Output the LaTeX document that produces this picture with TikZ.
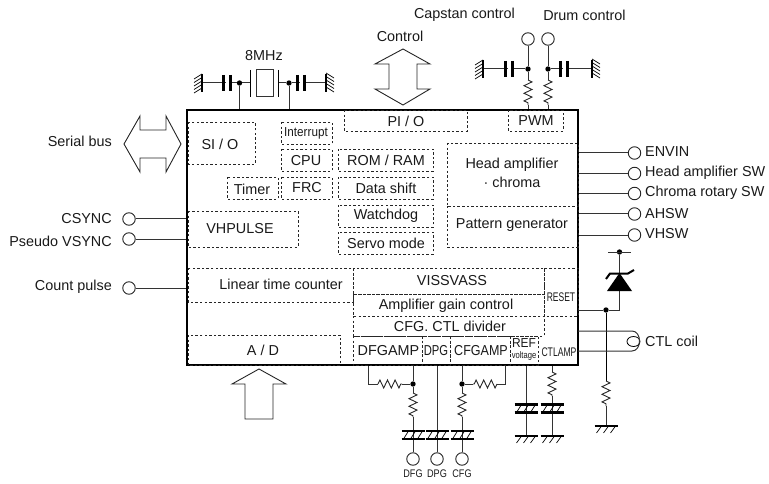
\documentclass[tikz,border=0pt]{standalone}
\usepackage{fontspec}
\usepackage{graphicx}
\setmainfont{Liberation Sans}
\usetikzlibrary{decorations.pathmorphing,calc,shapes.geometric}
\tikzset{
  wire/.style={line width=1pt,black!80},
  thin wire/.style={line width=0.8pt,black},
  plate/.style={line width=2.4pt,black},
  hatch/.style={line width=0.7pt,black},
  dbox/.style={draw=black!85,line width=0.8pt,dash pattern=on 2.4pt off 2.2pt},
  lbl/.style={inner sep=0pt,font=\fontsize{14.4}{14.4}\selectfont,text=black!90},
  lblL/.style={lbl,anchor=west},
  lblR/.style={lbl,anchor=east},
  term/.style={circle,draw=black!85,line width=0.9pt,minimum size=12.5pt,inner sep=0pt,fill=white},
  junction/.style={circle,fill=black,minimum size=5.4pt,inner sep=0pt},
  chipbox/.style={draw=black,line width=2.5pt,minimum width=391pt,minimum height=255pt,inner sep=0pt},
  bigarrow/.style={draw=black!85,line width=0.9pt,fill=white,line join=miter},
  resistor/.style={line width=0.9pt,black!85,decorate,decoration={zigzag,segment length=7.6pt,amplitude=4pt}}
}
\newcommand{\nrw}[3]{{\fontsize{#1}{#1}\selectfont\scalebox{#2}[1]{#3}}}
% ground at left (bar at x=#1, centre y=#2): hatch leaning left
\newcommand{\gndleft}[2]{\draw[plate,line width=2pt] (#1,#2-9) -- (#1,#2+9);
  \foreach \d in {-8,-4.5,-1,2.5,6}{\draw[hatch] (#1,#2+\d-1) -- (#1-8,#2+\d+4);}}
\newcommand{\gndright}[2]{\draw[plate,line width=2pt] (#1,#2-9) -- (#1,#2+9);
  \foreach \d in {-6,-2.5,1,4.5,8}{\draw[hatch] (#1,#2+\d-4) -- (#1+8,#2+\d+1);}}
% ground at bottom (bar at y=#2, centre x=#1)
\newcommand{\gnddown}[2]{\draw[plate] (#1-11.5,#2) -- (#1+11.5,#2);
  \foreach \d in {-7,0,7}{\draw[hatch] (#1+\d+2.5,#2) -- (#1+\d-2.5,#2+7);}}
% horizontal capacitor symbols
\newcommand{\caph}[2]{\draw[plate] (#1,#2-8) -- (#1,#2+8); \draw[plate] (#1+7,#2-8) -- (#1+7,#2+8);}
% vertical capacitor with hatch between plates
\newcommand{\capv}[2]{\draw[plate] (#1-11.5,#2) -- (#1+11.5,#2); \draw[plate] (#1-11.5,#2+8) -- (#1+11.5,#2+8);
  \foreach \d in {-7,0,7}{\draw[hatch] (#1+\d+2.5,#2) -- (#1+\d-2.5,#2+8);}}
\begin{document}
\begin{tikzpicture}[x=1pt,y=-1pt]
\useasboundingbox (0,0) rectangle (769,484);

% chip
\node[chipbox] (chip) at (382.5,237.5) {};

% dashed blocks
\draw[dbox] (188,122) rectangle (255,164);
\draw[dbox] (281,122) rectangle (332,144);
\draw[dbox] (281,149) rectangle (332,171);
\draw[dbox] (338,149) rectangle (433,171);
\draw[dbox] (227,177) rectangle (278,199);
\draw[dbox] (281,177) rectangle (332,199);
\draw[dbox] (338,177) rectangle (433,199);
\draw[dbox] (338,205) rectangle (433,227);
\draw[dbox] (338,232) rectangle (433,254);
\draw[dbox] (188,211) rectangle (298,247);
\draw[dbox] (344,110) rectangle (467,131);
\draw[dbox] (508,110) rectangle (563,131);
\draw[dbox] (447,143) rectangle (578,206);
\draw[dbox] (447,206) rectangle (578,247);
\draw[dbox] (188,268) rectangle (353,302);
\draw[dbox] (353,268) rectangle (544,294);
\draw[dbox] (353,294) rectangle (544,316);
\draw[dbox] (353,316) rectangle (544,336);
\draw[dbox] (544,268) rectangle (578,316);
\draw[dbox] (353,336) rectangle (422,365);
\draw[dbox] (422,336) rectangle (450,365);
\draw[dbox] (450,336) rectangle (510,365);
\draw[dbox] (510,336) rectangle (538,365);
\draw[dbox] (188,335) rectangle (340,365);

% block labels
\node[lbl] (siol) at (220,144) {SI / O};
\node[lbl] (intl) at (306,133) {\nrw{13}{.9}{Interrupt}};
\node[lbl] (cpul) at (306,160.5) {CPU};
\node[lbl] (roml) at (386,160.5) {ROM / RAM};
\node[lbl] (timl) at (252,189) {Timer};
\node[lbl] (frcl) at (307,188) {FRC};
\node[lbl] (datl) at (386,188) {Data shift};
\node[lbl] (watl) at (386,216) {Watchdog};
\node[lbl] (serl) at (386,243) {Servo mode};
\node[lbl] (vhpl) at (240,229) {VHPULSE};
\node[lbl] (piol) at (406,121) {PI / O};
\node[lbl] (pwml) at (536,121) {PWM};
\node[lbl] (headl) at (512,164.5) {Head amplifier};
\node[lbl] (chrl) at (512,182.5) {· chroma};
\node[lbl] (patl) at (512,225) {Pattern generator};
\node[lbl] (ltcl) at (281,284) {Linear time counter};
\node[lbl] (visl) at (452,281) {VISSVASS};
\node[lbl] (ampl) at (446,306) {Amplifier gain control};
\node[lbl] (cfgl) at (450,326) {CFG. CTL divider};
\node[lbl] (dfal) at (388.5,351) {DFGAMP};
\node[lbl] (dpal) at (436,351) {\nrw{14.4}{.78}{DPG}};
\node[lbl] (cfal) at (481,351) {\nrw{14.4}{.87}{CFGAMP}};
\node[lbl] (refl) at (524,343) {\nrw{13}{.92}{REF}};
\node[lbl] (voll) at (524,356.5) {\nrw{9.5}{.8}{voltage}};
\node[lbl] (ctal) at (559,352) {\nrw{12.5}{.69}{CTLAMP}};
\node[lbl] (resl) at (561,297) {\nrw{12.5}{.68}{RESET}};
\node[lbl] (adl) at (263,350) {A / D};

% left terminals
\node[term] (csync) at (129,219) {};
\node[term] (vsync) at (129,239) {};
\node[term] (count) at (129,288) {};
\node[lblR] (csyncl) at (112,219) {CSYNC};
\node[lblR] (vsyncl) at (112,241) {Pseudo VSYNC};
\node[lblR] (countl) at (112,287) {Count pulse};
\node[lblR] (busl) at (112,141) {Serial bus};
\foreach \t in {csync,vsync,count}{\draw[wire] (\t) -- (\t -| chip.west);}

% right terminals
\node[term] (envin) at (634.5,153) {};
\node[term] (headsw) at (634.5,173.5) {};
\node[term] (chrsw) at (634.5,193.5) {};
\node[term] (ahsw) at (634.5,214) {};
\node[term] (vhsw) at (634.5,235) {};
\node[lblL] (envinl) at (645,152) {ENVIN};
\node[lblL] (headswl) at (645,173) {Head amplifier SW};
\node[lblL] (chrswl) at (645,193) {Chroma rotary SW};
\node[lblL] (ahswl) at (645,214) {AHSW};
\node[lblL] (vhswl) at (645,234) {VHSW};
\foreach \t in {envin,headsw,chrsw,ahsw,vhsw}{\draw[wire] (\t) -- (\t -| chip.east);}

% big arrows
\draw[bigarrow] (403,49) -- (430,64) -- (417,64) -- (417,89) -- (430,89) -- (403,105) -- (375,89) -- (389,89) -- (389,64) -- (375,64) -- cycle;
\draw[bigarrow] (124,144) -- (140,116) -- (140,130) -- (166,130) -- (166,116) -- (181,144) -- (166,172) -- (166,158) -- (140,158) -- (140,172) -- cycle;
\draw[bigarrow] (259,369) -- (286,384) -- (273,384) -- (273,419) -- (245,419) -- (245,384) -- (232,384) -- cycle;

% top captions
\node[lbl] (mhzl) at (264,56) {8MHz};
\node[lbl] (ctrll) at (400,36) {Control};
\node[lbl] (capl) at (464.5,15) {Capstan control};
\node[lbl] (druml) at (584.5,15) {Drum control};

% crystal
\node[junction] (xa) at (239.5,83) {};
\node[junction] (xb) at (289,83) {};
\coordinate (gxa) at (202,83);
\coordinate (gxb) at (326,83);
\draw[wire] (gxa) -- (xa) -- (250,83);
\draw[wire] (278.5,83) -- (xb) -- (gxb);
\draw[wire] (xa) -- (xa |- chip.north);
\draw[wire] (xb) -- (xb |- chip.north);
\draw[thin wire] (250,70) -- (250,97);
\draw[thin wire] (278.5,70) -- (278.5,97);
\draw[wire,fill=white] (256,70) rectangle (273,97);
\gndleft{202}{83}
\gndright{326}{83}
\fill[white] (226,74) rectangle (229,92);
\caph{223.5}{83}
\fill[white] (300,74) rectangle (303,92);
\caph{297.5}{83}

% PWM outputs
\node[term] (capst) at (528,39) {};
\node[term] (drumt) at (548,39) {};
\node[junction] (ja) at (528,69) {};
\node[junction] (jb) at (548,69) {};
\coordinate (ra1) at (528,80);
\coordinate (ra2) at (528,105);
\coordinate (rb1) at (548,80);
\coordinate (rb2) at (548,105);
\draw[wire] (capst) -- (ja) -- (ra1);
\draw[wire] (drumt) -- (jb) -- (rb1);
\draw[resistor] (ra1) -- (ra2);
\draw[resistor] (rb1) -- (rb2);
\draw[wire] (ra2) -- (ra2 |- chip.north);
\draw[wire] (rb2) -- (rb2 |- chip.north);
\coordinate (ga) at (483,69);
\coordinate (gb) at (592,69);
\draw[wire] (ga) -- (ja);
\draw[wire] (jb) -- (gb);
\gndleft{483}{69}
\gndright{592}{69}
\fill[white] (508,60) rectangle (511,78);
\caph{505.5}{69}
\fill[white] (563,60) rectangle (566,78);
\caph{560.5}{69}

% bottom: DFG
\node[term] (dfg) at (413,459) {};
\node[term] (dpg) at (437,459) {};
\node[term] (cfg) at (462,459) {};
\node[junction] (jd) at (413,384) {};
\node[junction] (jc) at (462,384) {};
\coordinate (d0) at (368,384);
\coordinate (d1) at (378,384);
\coordinate (d2) at (402,384);
\coordinate (d3) at (413,393);
\coordinate (d4) at (413,417);
\draw[wire] (d0 |- chip.south) -- (d0) -- (d1);
\draw[resistor] (d1) -- (d2);
\draw[wire] (d2) -- (jd);
\draw[wire] (jd |- chip.south) -- (jd) -- (d3);
\draw[resistor] (d3) -- (d4);
\draw[wire] (d4) -- (dfg);
\draw[wire] (dpg |- chip.south) -- (dpg);
\coordinate (c0) at (505,384);
\coordinate (c1) at (497,384);
\coordinate (c2) at (473,384);
\coordinate (c3) at (462,393);
\coordinate (c4) at (462,417);
\draw[wire] (c0 |- chip.south) -- (c0) -- (c1);
\draw[resistor] (c1) -- (c2);
\draw[wire] (c2) -- (jc);
\draw[wire] (jc |- chip.south) -- (jc) -- (c3);
\draw[resistor] (c3) -- (c4);
\draw[wire] (c4) -- (cfg);
\capv{413}{431}
\capv{437}{431}
\capv{462}{431}
\node[lbl] (dfgl) at (413,473.5) {\nrw{11}{.83}{DFG}};
\node[lbl] (dpgl) at (437,473.5) {\nrw{11}{.83}{DPG}};
\node[lbl] (cfgl2) at (462,473.5) {\nrw{11}{.83}{CFG}};

% bottom: REF, CTLAMP
\coordinate (rg) at (526,436);
\coordinate (cg) at (552,436);
\coordinate (e1) at (552,372);
\coordinate (e2) at (552,396);
\draw[wire] (rg |- chip.south) -- (rg);
\draw[wire] (e1 |- chip.south) -- (e1);
\draw[resistor] (e1) -- (e2);
\draw[wire] (e2) -- (cg);
\capv{526}{404.5}
\capv{552}{404.5}
\gnddown{526}{436}
\gnddown{552}{436}

% zener and reset
\node[junction] (zt) at (619.5,252) {};
\node[junction] (zb) at (606,310) {};
\coordinate (zc) at (619.5,310);
\draw[wire] (608,252) -- (631,252);
\draw[wire] (zt) -- (619.5,291);
\draw[wire] (619.5,291) -- (zc) -- (zb) -- (zb -| chip.east);
\fill[black] (619.5,273) -- (632,291) -- (607,291) -- cycle;
\draw[line width=2pt,black] (606,279) -- (610,273.5) -- (628,273.5) -- (634,270);
\coordinate (s1) at (606,381);
\coordinate (s2) at (606,406);
\coordinate (sg) at (606,426);
\draw[thin wire] (zb) -- (s1);
\draw[resistor] (s1) -- (s2);
\draw[wire] (s2) -- (sg);
\gnddown{606}{426}

% CTL coil
\node[draw=black,line width=0.8pt,ellipse,minimum width=13pt,minimum height=10pt,inner sep=0pt] (coil) at (633.5,341.5) {};
\coordinate (co1) at (578,331);
\coordinate (co2) at (578,351);
\draw[wire] (co1) -- (632,331) .. controls (642,331) and (642,351) .. (632,351) -- (co2);
\node[lblL] (coill) at (645,341) {CTL coil};
\end{tikzpicture}
\end{document}
